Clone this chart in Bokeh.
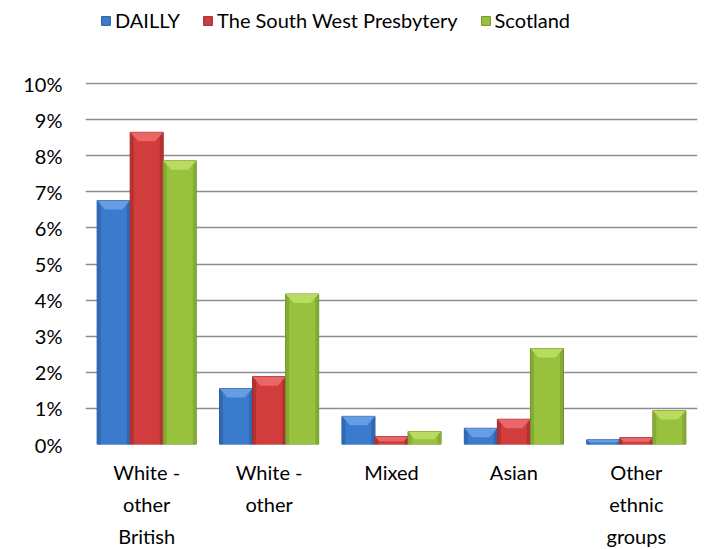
from bokeh.plotting import figure
from bokeh.layouts import column
from bokeh.models import (ColumnDataSource, Range1d, FixedTicker, LinearAxis,
                          PrintfTickFormatter, Legend, LegendItem)
from bokeh.embed import file_html
from bokeh.resources import INLINE

categories = ["White - other British", "White - other", "Mixed", "Asian", "Other ethnic groups"]
label_line1 = ["White -", "White -", "Mixed", "Asian", "Other"]
label_line2 = ["other", "other", "", "", "ethnic"]
label_line3 = ["British", "", "", "", "groups"]
series_names = ["DAILLY", "The South West Presbytery", "Scotland"]
dailly = [6.76, 1.55, 0.78, 0.45, 0.13]
presbytery = [8.65, 1.88, 0.22, 0.70, 0.19]
scotland = [7.86, 4.17, 0.36, 2.66, 0.94]
series_values = [dailly, presbytery, scotland]

colors = ["#3B7BCD", "#D13C3C", "#98C23E"]
edges = ["#2A5C9E", "#9E2A2A", "#6E8F2A"]
lights = ["#6FA3E6", "#EE6E6E", "#BEE066"]
sides = ["#3168B4", "#B53131", "#84AB33"]

FONT = "Lato"
FS = "20px"
FW, FH = 612, 362
YMAX = 10.03
LEG_H = 40
p = figure(frame_width=FW, frame_height=FH, output_backend="svg", toolbar_location=None,
           x_range=Range1d(0, len(categories)), y_range=Range1d(0, YMAX),
           min_border_left=85, min_border_right=1, min_border_top=82 - LEG_H,
           min_border_bottom=0, outline_line_color=None)
p.xaxis.visible = False
p.xgrid.visible = False
p.ygrid.ticker = FixedTicker(ticks=list(range(0, 11)))
p.ygrid.grid_line_color = "#8E8E8E"
p.ygrid.grid_line_width = 1.6

p.yaxis.ticker = FixedTicker(ticks=list(range(0, 11)))
p.yaxis.formatter = PrintfTickFormatter(format="%d%%")
p.yaxis.axis_line_color = None
p.yaxis.major_tick_line_color = None
p.yaxis.minor_tick_line_color = None
p.yaxis.major_tick_out = 0
p.yaxis.major_tick_in = 0
p.yaxis.major_label_standoff = 23
p.yaxis.major_label_text_font = FONT
p.yaxis.major_label_text_font_size = FS
p.yaxis.major_label_text_color = "#000000"

centers = [i + 0.5 for i in range(len(categories))]
bw = 0.27
offsets = [-bw, 0.0, bw]
px_x = FW / len(categories)
px_y = FH / YMAX
inset_x = 8 / px_x
bevel_h = 9 / px_y
side_w = 3 / px_x

for s in range(3):
    xs = [c + offsets[s] for c in centers]
    vals = series_values[s]
    src = ColumnDataSource(dict(x=xs, top=vals))
    p.vbar(x="x", top="top", width=bw, bottom=0, source=src,
           fill_color=colors[s], line_color=edges[s], line_width=1)
    p.vbar(x=[x - bw / 2 + side_w / 2 + 0.004 for x in xs], top=vals, width=side_w,
           fill_color=sides[s], line_color=None)
    p.vbar(x=[x + bw / 2 - side_w / 2 - 0.004 for x in xs], top=vals, width=side_w,
           fill_color=sides[s], line_color=None)
    pxs, pys = [], []
    for x, v in zip(xs, vals):
        h = min(bevel_h, v * 0.6)
        ins = min(inset_x, inset_x * h / bevel_h)
        pxs.append([x - bw / 2, x + bw / 2, x + bw / 2 - ins, x - bw / 2 + ins])
        pys.append([v, v, v - h, v - h])
    p.patches(pxs, pys, fill_color=lights[s], line_color=None, fill_alpha=0.85)

for lines, standoff in [(label_line1, 15), (label_line2, 5), (label_line3, 5)]:
    ax = LinearAxis(ticker=FixedTicker(ticks=centers),
                    major_label_overrides={c: t for c, t in zip(centers, lines)})
    ax.axis_line_color = None
    ax.major_tick_line_color = None
    ax.minor_tick_line_color = None
    ax.major_tick_out = 0
    ax.major_tick_in = 0
    ax.major_label_standoff = standoff
    ax.major_label_text_font = FONT
    ax.major_label_text_font_size = FS
    ax.major_label_text_color = "#000000"
    p.add_layout(ax, "below")

# legend strip on top (the series' bars sit outside its visible y range)
lf = figure(width=85 + FW + 1, height=LEG_H, output_backend="svg", toolbar_location=None,
            x_range=Range1d(0, len(categories)), y_range=Range1d(100, 101),
            x_axis_type=None, y_axis_type=None, min_border=0, outline_line_color=None)
lf.xgrid.visible = False
lf.ygrid.visible = False
items = []
for s in range(3):
    xs = [c + offsets[s] for c in centers]
    r = lf.vbar(x=xs, top=series_values[s], width=bw, fill_color=colors[s],
                line_color=edges[s])
    items.append(LegendItem(label=series_names[s], renderers=[r]))
legend = Legend(items=items, orientation="horizontal", location=(15, 8),
                border_line_color=None, background_fill_alpha=0,
                label_text_font=FONT, label_text_font_size=FS, label_text_color="#000000",
                glyph_width=11, glyph_height=11, label_standoff=4, spacing=22,
                padding=0, margin=0)
lf.add_layout(legend, "center")

layout = column(lf, p, spacing=0)
open("out.html", "w").write(file_html(layout, INLINE))
